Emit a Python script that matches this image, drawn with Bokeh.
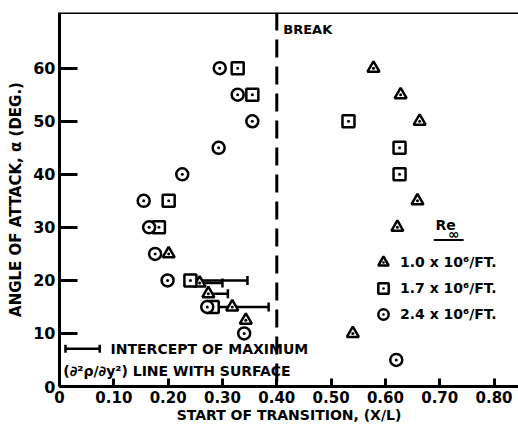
from bokeh.plotting import figure
from bokeh.models import (ColumnDataSource, Whisker, TeeHead, Span, Label, Legend,
                          LegendItem, FixedTicker)
from bokeh.embed import file_html
from bokeh.resources import INLINE

# ---- data ----
tri_x = [0.578, 0.628, 0.663, 0.659, 0.622, 0.201, 0.258, 0.274, 0.318, 0.343, 0.540]
tri_y = [60, 55, 50, 35, 30, 25, 19.5, 17.5, 15, 12.5, 10]

sq_x = [0.328, 0.355, 0.532, 0.626, 0.626, 0.201, 0.183, 0.241, 0.282]
sq_y = [60, 55, 50, 45, 40, 35, 30, 20, 15]

cir_x = [0.295, 0.328, 0.355, 0.293, 0.226, 0.155, 0.165, 0.176, 0.199, 0.272, 0.340, 0.620]
cir_y = [60, 55, 50, 45, 40, 35, 30, 25, 20, 15, 10, 5]

# intercept bars
bar_y = [20, 19.5, 17.5, 15]
bar_lo = [0.241, 0.258, 0.274, 0.282]
bar_hi = [0.346, 0.300, 0.310, 0.385]

key_bar_y = [7.1]
key_bar_lo = [0.011]
key_bar_hi = [0.074]

break_x = 0.40

x_ticks = [0, 0.1, 0.2, 0.3, 0.4, 0.5, 0.6, 0.7, 0.8]
x_tick_labels = ["0", "0.10", "0.20", "0.30", "0.40", "0.50", "0.60", "0.70", "0.80"]
y_ticks = [0, 10, 20, 30, 40, 50, 60]
y_tick_labels = ["0", "10", "20", "30", "40", "50", "60"]

series_labels = ["1.0 x 10\u2076/FT.", "1.7 x 10\u2076/FT.", "2.4 x 10\u2076/FT."]

FONT = "DejaVu Sans"
Y_TOP = 70.5

p = figure(width=518, height=428, x_range=(0, 0.845), y_range=(0, Y_TOP),
           output_backend="svg", toolbar_location=None,
           min_border_left=59, min_border_right=0, min_border_top=12, min_border_bottom=42)
p.outline_line_color = None
p.xgrid.visible = False
p.ygrid.visible = False
p.background_fill_color = "white"

for ax in (p.xaxis[0], p.yaxis[0]):
    ax.axis_line_width = 3
    ax.axis_line_color = "black"
    ax.major_tick_line_width = 3
    ax.major_tick_line_color = "black"
    ax.minor_tick_line_color = None
    ax.major_tick_out = 0
    ax.major_label_text_font = FONT
    ax.major_label_text_font_style = "bold"
    ax.major_label_text_font_size = "15px"
    ax.major_label_text_color = "black"
    ax.axis_label_text_font = FONT
    ax.axis_label_text_font_style = "bold"
    ax.axis_label_text_font_size = "15px"
    ax.axis_label_text_color = "black"

p.xaxis.ticker = FixedTicker(ticks=x_ticks)
p.xaxis.major_label_overrides = dict(zip(x_ticks, x_tick_labels))
p.xaxis.major_tick_in = 8
p.xaxis.major_label_standoff = 4
p.xaxis.axis_label = "START OF TRANSITION, (X/L)"
p.xaxis.axis_label_text_font_size = "14px"
p.xaxis.axis_label_standoff = 1

p.yaxis.ticker = FixedTicker(ticks=y_ticks)
p.yaxis.major_label_overrides = dict(zip(y_ticks, y_tick_labels))
p.yaxis.major_tick_in = 18
p.yaxis.major_label_standoff = 4
p.yaxis.major_label_text_font_size = "16px"
p.yaxis.axis_label = "ANGLE OF ATTACK, \u03b1 (DEG.)"
p.yaxis.axis_label_standoff = 5

# top frame line
p.add_layout(Span(location=Y_TOP, dimension="width", line_color="black", line_width=3))

# break line
p.add_layout(Span(location=break_x, dimension="height", line_color="black",
                  line_width=3, line_dash="18 9"))
p.add_layout(Label(x=0.412, y=67.3, text="BREAK", text_font=FONT, text_font_style="bold",
                   text_font_size="13px", text_baseline="middle", text_color="black"))

# intercept bars
bsrc = ColumnDataSource(dict(y=bar_y, lo=bar_lo, hi=bar_hi))
w = Whisker(source=bsrc, base="y", lower="lo", upper="hi", dimension="width",
            line_color="black", line_width=2.5, level="underlay",
            upper_head=TeeHead(size=9, line_width=2.5, line_color="black"),
            lower_head=None)
p.add_layout(w)

ksrc = ColumnDataSource(dict(y=key_bar_y, lo=key_bar_lo, hi=key_bar_hi))
kw = Whisker(source=ksrc, base="y", lower="lo", upper="hi", dimension="width",
             line_color="black", line_width=2.5,
             upper_head=TeeHead(size=8, line_width=2.5, line_color="black"),
             lower_head=TeeHead(size=8, line_width=2.5, line_color="black"))
p.add_layout(kw)
p.add_layout(Label(x=0.094, y=7.1, text="INTERCEPT OF MAXIMUM", text_font=FONT,
                   text_font_style="bold", text_font_size="14px", text_baseline="middle",
                   text_color="black"))
p.add_layout(Label(x=0.007, y=3.0, text="(\u2202\u00b2\u03c1/\u2202y\u00b2) LINE WITH SURFACE",
                   text_font=FONT, text_font_style="bold", text_font_size="14px",
                   text_baseline="middle", text_color="black"))

mk = dict(size=12, line_color="black", line_width=2.5, fill_color="white")
r_tri = p.scatter(tri_x, tri_y, marker="triangle_dot", **mk)
r_sq = p.scatter(sq_x, sq_y, marker="square_dot", **mk)
r_cir = p.scatter(cir_x, cir_y, marker="circle_dot", **mk)

legend = Legend(items=[LegendItem(label=series_labels[0], renderers=[r_tri]),
                       LegendItem(label=series_labels[1], renderers=[r_sq]),
                       LegendItem(label=series_labels[2], renderers=[r_cir])],
                location=(311, 59), glyph_width=26, glyph_height=26, spacing=0,
                padding=0, margin=0, border_line_color=None, background_fill_alpha=0,
                label_height=20,
                label_text_font=FONT, label_text_font_style="bold",
                label_text_font_size="14px", label_standoff=4, label_text_color="black")
p.add_layout(legend, "center")

# legend header Re_inf
p.add_layout(Label(x=0.692, y=30.5, text="Re", text_font=FONT, text_font_style="bold",
                   text_font_size="14px", text_baseline="middle", text_color="black"))
p.add_layout(Label(x=0.715, y=28.8, text="\u221e", text_font=FONT, text_font_style="bold",
                   text_font_size="14px", text_baseline="middle", text_color="black"))
p.segment(x0=[0.689], y0=[27.6], x1=[0.744], y1=[27.6], line_color="black", line_width=2)

open("out.html", "w").write(file_html(p, INLINE))
